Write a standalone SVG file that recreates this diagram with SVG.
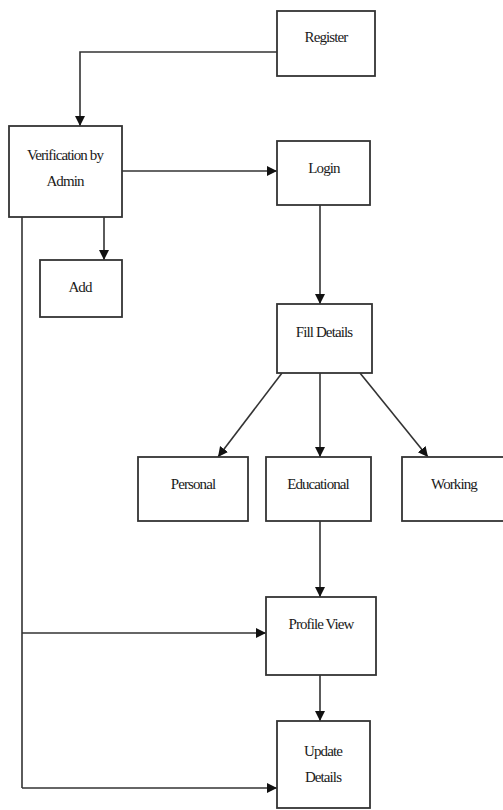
<svg xmlns="http://www.w3.org/2000/svg" width="503" height="810" viewBox="0 0 503 810">
<style>
.box{fill:#fff;stroke:#333;stroke-width:1.8}
.lbl{font-family:"Liberation Serif","Times New Roman",serif;font-size:15px;letter-spacing:-0.9px;fill:#1a1a1a;text-anchor:middle}
.con{fill:none;stroke:#333;stroke-width:1.6}
</style>
<defs>
<marker id="ah" markerWidth="10" markerHeight="12" refX="10" refY="5" orient="auto" markerUnits="userSpaceOnUse">
<path d="M0,0 L10,5 L0,10 Z" fill="#111"/>
</marker>
</defs>
<rect width="503" height="810" fill="#fff"/>
<g id="connectors">
<path class="con" d="M277,52 H80 V126" marker-end="url(#ah)"/>
<path class="con" d="M122,171 H277" marker-end="url(#ah)"/>
<path class="con" d="M104,217 V260" marker-end="url(#ah)"/>
<path class="con" d="M320,205 V304" marker-end="url(#ah)"/>
<path class="con" d="M22,217 V788"/>
<path class="con" d="M282,373 L218,457" marker-end="url(#ah)"/>
<path class="con" d="M320,373 V457" marker-end="url(#ah)"/>
<path class="con" d="M360,373 L428,457" marker-end="url(#ah)"/>
<path class="con" d="M320,521 V597" marker-end="url(#ah)"/>
<path class="con" d="M22,633 H266" marker-end="url(#ah)"/>
<path class="con" d="M320,675 V721" marker-end="url(#ah)"/>
<path class="con" d="M22,788 H277" marker-end="url(#ah)"/>
</g>
<g id="register"><rect class="box" x="277" y="11" width="98" height="65"/><text class="lbl" x="326" y="42">Register</text></g>
<g id="verification"><rect class="box" x="9" y="126" width="113" height="91"/><text class="lbl" x="65" y="160">Verification by</text><text class="lbl" x="65" y="186">Admin</text></g>
<g id="login"><rect class="box" x="277" y="141" width="93" height="64"/><text class="lbl" x="324" y="173">Login</text></g>
<g id="add"><rect class="box" x="40" y="260" width="82" height="57"/><text class="lbl" x="80" y="292">Add</text></g>
<g id="fill-details"><rect class="box" x="277" y="304" width="95" height="69"/><text class="lbl" x="324" y="337">Fill Details</text></g>
<g id="personal"><rect class="box" x="138" y="457" width="110" height="64"/><text class="lbl" x="193" y="489">Personal</text></g>
<g id="educational"><rect class="box" x="266" y="457" width="105" height="64"/><text class="lbl" x="318" y="489">Educational</text></g>
<g id="working"><rect class="box" x="402" y="457" width="104" height="64"/><text class="lbl" x="454" y="489">Working</text></g>
<g id="profile-view"><rect class="box" x="266" y="597" width="110" height="78"/><text class="lbl" x="321" y="629">Profile View</text></g>
<g id="update-details"><rect class="box" x="277" y="721" width="93" height="87"/><text class="lbl" x="323" y="756">Update</text><text class="lbl" x="323" y="782">Details</text></g>
</svg>
